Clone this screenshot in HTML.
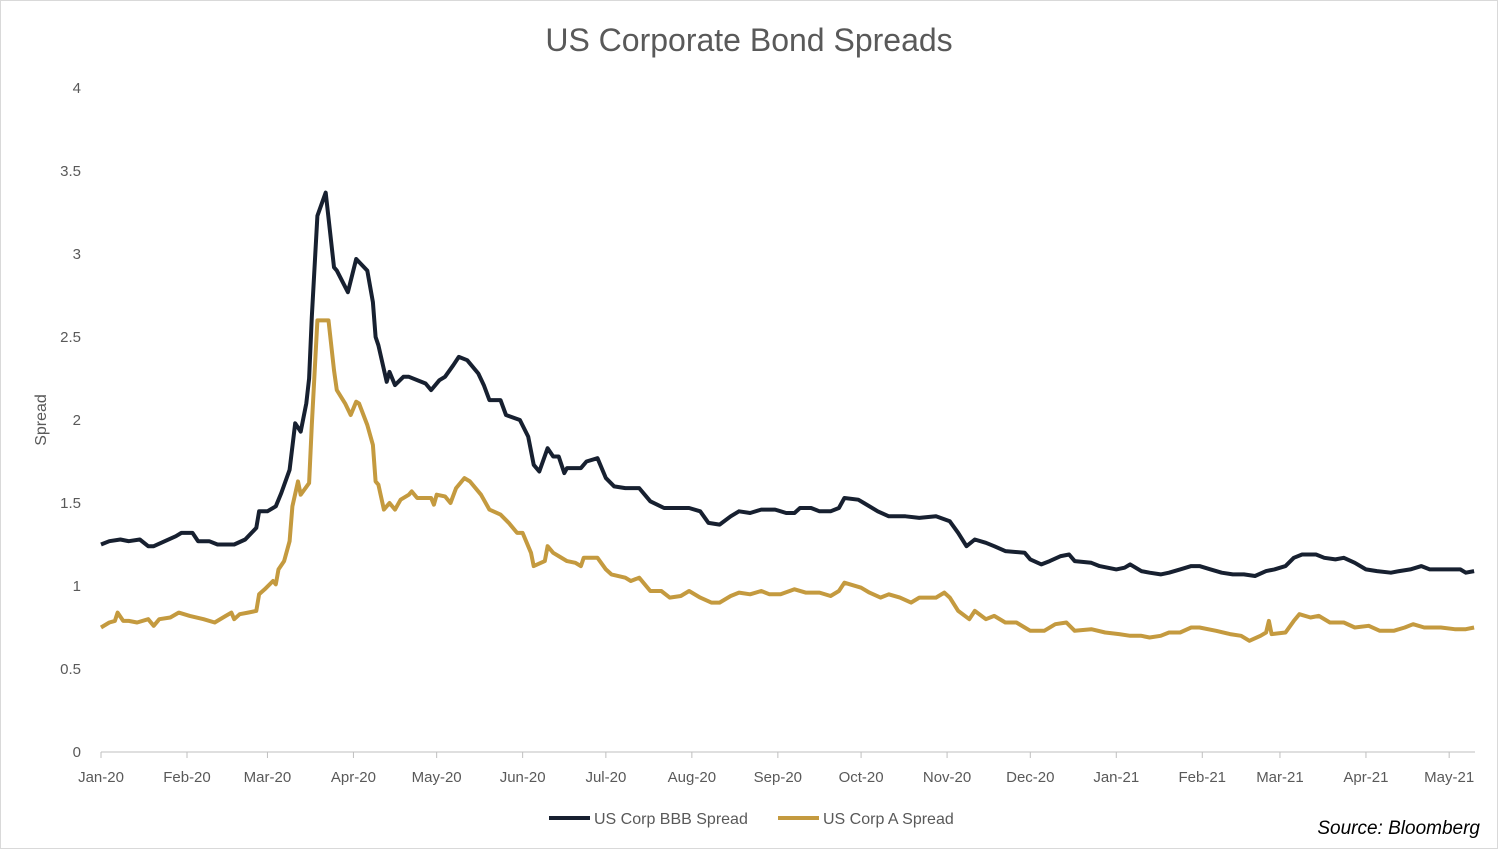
<!DOCTYPE html>
<html><head><meta charset="utf-8"><style>
body{margin:0;background:#fff;font-family:"Liberation Sans",sans-serif}
svg text{font-family:"Liberation Sans",sans-serif}
</style></head><body>
<svg id="chart" width="1498" height="855" xmlns="http://www.w3.org/2000/svg">
<rect x="0.5" y="0.5" width="1497" height="848" fill="#fff" stroke="#d9d9d9"/>
<text x="749" y="51" text-anchor="middle" font-size="32" fill="#595959">US Corporate Bond Spreads</text>
<text transform="translate(46,420) rotate(-90)" text-anchor="middle" font-size="16" fill="#595959">Spread</text>
<g id="yticks"></g><g id="xticks"></g><g id="series"></g>
<line x1="101" y1="752" x2="1475" y2="752" stroke="#bfbfbf" stroke-width="1"/>
<g><line x1="549" y1="818" x2="590" y2="818" stroke="#172030" stroke-width="4"/><text x="594" y="824" font-size="16" fill="#595959">US Corp BBB Spread</text></g>
<g><line x1="778" y1="818" x2="819" y2="818" stroke="#c49a3f" stroke-width="4"/><text x="823" y="824" font-size="16" fill="#595959">US Corp A Spread</text></g>
<text x="1480" y="834" text-anchor="end" font-size="19" font-style="italic" fill="#000">Source: Bloomberg</text>
</svg>
<script>
const yTicks=[0,0.5,1,1.5,2,2.5,3,3.5,4];
const yTickLabels=["0","0.5","1","1.5","2","2.5","3","3.5","4"];
const monthDays=[0,31,60,91,121,152,182,213,244,274,305,335,366,397,425,456,486];
const monthLabels=["Jan-20","Feb-20","Mar-20","Apr-20","May-20","Jun-20","Jul-20","Aug-20","Sep-20","Oct-20","Nov-20","Dec-20","Jan-21","Feb-21","Mar-21","Apr-21","May-21"];
const bbbDays=[0,3,7,10,14,17,19,23,27,29,33,35,39,42,48,52,56,57,60,63,65,68,70,72,74,75,76,78,81,84,85,89,92,96,98,99,100,103,104,106,109,111,117,119,122,124,127,129,132,136,138,140,144,146,151,154,156,158,161,163,165,167,168,173,175,179,182,185,189,194,198,203,209,212,216,219,223,227,230,234,238,243,247,250,252,256,259,263,266,268,273,275,280,284,290,295,301,306,309,312,315,319,322,326,333,335,339,342,346,349,351,357,360,366,369,371,375,378,382,385,389,393,396,400,404,408,412,416,420,423,427,430,433,438,441,445,448,452,456,460,465,468,472,476,479,485,490,492,495];
const bbbValues=[1.25,1.27,1.28,1.27,1.28,1.24,1.24,1.27,1.30,1.32,1.32,1.27,1.27,1.25,1.25,1.28,1.35,1.45,1.45,1.48,1.56,1.70,1.98,1.93,2.10,2.25,2.62,3.23,3.37,2.92,2.90,2.77,2.97,2.90,2.71,2.50,2.45,2.23,2.29,2.21,2.26,2.26,2.22,2.18,2.24,2.26,2.33,2.38,2.36,2.28,2.21,2.12,2.12,2.03,2.00,1.90,1.73,1.69,1.83,1.78,1.78,1.68,1.71,1.71,1.75,1.77,1.65,1.60,1.59,1.59,1.51,1.47,1.47,1.47,1.45,1.38,1.37,1.42,1.45,1.44,1.46,1.46,1.44,1.44,1.47,1.47,1.45,1.45,1.47,1.53,1.52,1.50,1.45,1.42,1.42,1.41,1.42,1.39,1.32,1.24,1.28,1.26,1.24,1.21,1.20,1.16,1.13,1.15,1.18,1.19,1.15,1.14,1.12,1.10,1.11,1.13,1.09,1.08,1.07,1.08,1.10,1.12,1.12,1.10,1.08,1.07,1.07,1.06,1.09,1.10,1.12,1.17,1.19,1.19,1.17,1.16,1.17,1.14,1.10,1.09,1.08,1.09,1.10,1.12,1.10,1.10,1.10,1.08,1.09];
const aDays=[0,3,5,6,8,10,13,17,19,21,25,28,32,37,41,45,47,48,50,53,56,57,59,62,63,64,66,68,69,71,72,75,76,78,82,84,85,88,90,92,93,96,98,99,100,102,104,106,108,111,112,114,119,120,121,124,126,128,131,133,137,140,144,147,150,152,155,156,160,161,163,165,168,171,173,174,179,182,184,189,191,194,198,202,205,209,212,216,220,223,227,230,234,238,241,245,250,254,259,263,266,268,274,277,281,284,288,292,295,301,304,306,309,313,315,319,322,326,330,333,335,340,344,348,351,357,362,367,371,375,378,382,385,389,393,396,402,407,411,414,418,420,421,422,427,430,432,436,439,443,448,452,457,461,466,470,473,477,483,488,492,495];
const aValues=[0.75,0.78,0.79,0.84,0.79,0.79,0.78,0.80,0.76,0.80,0.81,0.84,0.82,0.80,0.78,0.82,0.84,0.80,0.83,0.84,0.85,0.95,0.98,1.03,1.01,1.10,1.15,1.27,1.48,1.63,1.55,1.62,1.97,2.60,2.60,2.30,2.18,2.10,2.03,2.11,2.10,1.97,1.85,1.63,1.61,1.46,1.50,1.46,1.52,1.55,1.57,1.53,1.53,1.49,1.55,1.54,1.50,1.59,1.65,1.63,1.55,1.46,1.43,1.38,1.32,1.32,1.20,1.12,1.15,1.24,1.20,1.18,1.15,1.14,1.12,1.17,1.17,1.10,1.07,1.05,1.03,1.05,0.97,0.97,0.93,0.94,0.97,0.93,0.90,0.90,0.94,0.96,0.95,0.97,0.95,0.95,0.98,0.96,0.96,0.94,0.97,1.02,0.99,0.96,0.93,0.95,0.93,0.90,0.93,0.93,0.96,0.93,0.85,0.80,0.85,0.80,0.82,0.78,0.78,0.75,0.73,0.73,0.77,0.78,0.73,0.74,0.72,0.71,0.70,0.70,0.69,0.70,0.72,0.72,0.75,0.75,0.73,0.71,0.70,0.67,0.70,0.72,0.79,0.71,0.72,0.79,0.83,0.81,0.82,0.78,0.78,0.75,0.76,0.73,0.73,0.75,0.77,0.75,0.75,0.74,0.74,0.75];

const NS="http://www.w3.org/2000/svg";
function xs(d){return 101+d*2.774;}
function ys(v){return 752-v*166;}
function mk(tag,attrs,parent){const e=document.createElementNS(NS,tag);for(const k in attrs)e.setAttribute(k,attrs[k]);parent.appendChild(e);return e;}
const yg=document.getElementById('yticks');
yTicks.forEach((v,i)=>{
  const t=mk('text',{x:81,y:ys(v)+5,'text-anchor':'end','font-size':15,fill:'#595959'},yg);
  t.textContent=yTickLabels[i];
  
  
});
const xg=document.getElementById('xticks');
monthDays.forEach((d,i)=>{
  const l=mk('line',{x1:xs(d),y1:752,x2:xs(d),y2:758,stroke:'#bfbfbf'},xg);
  
  
  const t=mk('text',{x:xs(d),y:782,'text-anchor':'middle','font-size':15,fill:'#595959'},xg);
  t.textContent=monthLabels[i];
  
  
});
const sg=document.getElementById('series');
function line(days,vals,color,name){
  const d=days.map((dd,i)=>(i?'L':'M')+xs(dd).toFixed(1)+','+ys(vals[i]).toFixed(1)).join('');
  const p=mk('path',{d:d,fill:'none',stroke:color,'stroke-width':4,'stroke-linejoin':'round'},sg);
  
  
}
line(aDays,aValues,'#c49a3f','series-a-spread');
line(bbbDays,bbbValues,'#172030','series-bbb-spread');
</script>
</body></html>
